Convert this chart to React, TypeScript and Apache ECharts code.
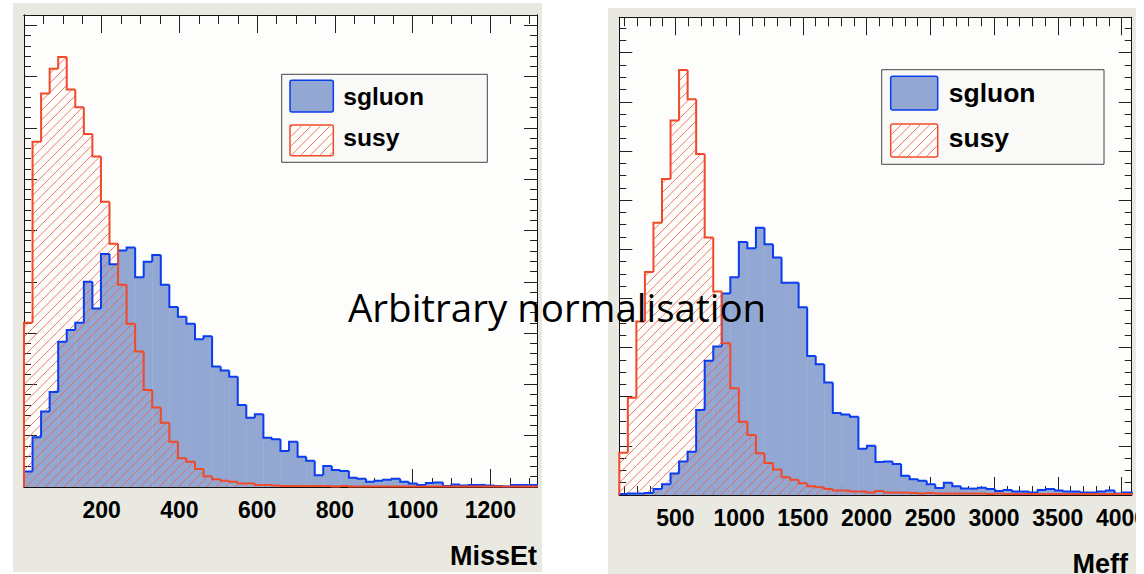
import React, { useEffect, useRef } from "react";
import * as echarts from "echarts";

// ---------- data ----------
const missEtBinStart = 0;
const missEtBinWidth = 22;
const missEtSgluon = [
  0.30, 0.97, 1.47, 1.85, 2.83, 3.06, 3.20, 4.00, 3.48, 4.54,
  4.34, 4.61, 4.67, 4.09, 4.39, 4.52, 3.94, 3.51, 3.32, 3.18,
  2.88, 2.94, 2.35, 2.27, 2.15, 1.60, 1.35, 1.42, 0.96, 0.93,
  0.70, 0.88, 0.59, 0.51, 0.23, 0.41, 0.33, 0.31, 0.18, 0.16,
  0.10, 0.12, 0.14, 0.16, 0.10, 0.07, 0.04, 0.08, 0.09, 0.02,
  0.05, 0.03, 0.04, 0.04, 0.03, 0.02, 0.01, 0.04, 0.04, 0.04,
];
const missEtSusy = [
  3.20, 6.73, 7.67, 8.15, 8.38, 7.75, 7.40, 6.88, 6.44, 5.56,
  4.74, 3.94, 3.18, 2.64, 1.89, 1.55, 1.25, 0.88, 0.56, 0.49,
  0.35, 0.21, 0.15, 0.12, 0.10, 0.07, 0.07, 0.04, 0.04, 0.03,
  0.02, 0.02, 0.02, 0.02, 0.02, 0.02, 0.01, 0.02, 0.01, 0.01,
  0.01, 0.01, 0.01, 0.01, 0.01, 0.01, 0.01, 0.01, 0.01, 0.01,
  0.01, 0.01, 0.01, 0.01, 0.01, 0.01, 0.01, 0.01, 0.01, 0.01,
];
const meffBinStart = 60;
const meffBinWidth = 67;
const meffSgluon = [
  0.02, 0.03, 0.03, 0.04, 0.12, 0.22, 0.44, 0.68, 0.88, 1.73,
  2.73, 3.02, 4.10, 4.43, 5.15, 5.02, 5.44, 5.10, 4.83, 4.32,
  4.32, 3.82, 2.83, 2.66, 2.29, 1.67, 1.64, 1.59, 0.94, 1.00,
  0.67, 0.68, 0.63, 0.39, 0.32, 0.29, 0.22, 0.14, 0.25, 0.18,
  0.13, 0.13, 0.15, 0.12, 0.08, 0.10, 0.07, 0.07, 0.05, 0.10,
  0.12, 0.09, 0.07, 0.07, 0.05, 0.05, 0.07, 0.09, 0.03, 0.05,
];
const meffSusy = [
  0.86, 1.98, 3.53, 4.54, 5.54, 6.43, 7.62, 8.65, 8.05, 6.94,
  5.24, 4.14, 3.09, 2.17, 1.49, 1.22, 0.85, 0.65, 0.52, 0.36,
  0.31, 0.24, 0.18, 0.16, 0.12, 0.09, 0.09, 0.07, 0.07, 0.05,
  0.08, 0.05, 0.05, 0.05, 0.04, 0.03, 0.04, 0.03, 0.03, 0.03,
  0.03, 0.03, 0.03, 0.02, 0.03, 0.02, 0.02, 0.02, 0.02, 0.02,
  0.02, 0.02, 0.02, 0.02, 0.02, 0.02, 0.02, 0.02, 0.02, 0.02,
];
const missEtRange = [0, 1320];
const meffRange = [60, 4080];
const missEtYMax = 9.2;
const meffYMax = 9.72;
const missEtTickLabels = [200, 400, 600, 800, 1000, 1200];
const meffTickLabels = [500, 1000, 1500, 2000, 2500, 3000, 3500, 4000];
const yMajorTicks = [1, 2, 3, 4, 5, 6, 7, 8, 9];
const seriesNames = ["sgluon", "susy"];
const axisTitles = ["MissEt", "Meff"];
const overlayText = "Arbitrary normalisation";

// ---------- styles ----------
const BLUE_FILL = "#93a7d3";
const BLUE_LINE = "#0a3cf0";
const RED_LINE = "#f04a2a";
const HATCH_COLOR = "rgba(240,95,70,0.85)";
const HATCH = 9.5;

function steps(step: number, max: number) {
  const out: number[] = [];
  for (let i = 1; i * step <= max + 1e-9; i++) out.push(+(i * step).toFixed(4));
  return out;
}

function toBins(start: number, width: number, vals: number[]) {
  return vals.map((v, i) => [
    start + i * width,
    start + (i + 1) * width,
    v,
    i > 0 ? vals[i - 1] : 0,
    i === vals.length - 1 ? 1 : 0,
  ]);
}

function hatchSegments(x0: number, x1: number, yTop: number, yBot: number, color: string, width: number) {
  const out: any[] = [];
  const kStart = Math.ceil((x0 + yTop) / HATCH);
  const kEnd = Math.floor((x1 + yBot) / HATCH);
  for (let k = kStart; k <= kEnd; k++) {
    const c = k * HATCH;
    const xa = Math.max(x0, c - yBot);
    const xb = Math.min(x1, c - yTop);
    if (xb - xa <= 0.05) continue;
    out.push({
      type: "line",
      silent: true,
      shape: { x1: xa, y1: c - xa, x2: xb, y2: c - xb },
      style: { stroke: color, lineWidth: width },
    });
  }
  return out;
}

const fillRender = (color: string) => (_p: any, api: any) => {
  const a = api.coord([api.value(0), 0]);
  const b = api.coord([api.value(1), api.value(2)]);
  return {
    type: "rect",
    silent: true,
    shape: { x: a[0], y: b[1], width: b[0] - a[0] + 0.4, height: a[1] - b[1] },
    style: { fill: color },
  };
};

const hatchRender = (_p: any, api: any) => {
  const a = api.coord([api.value(0), 0]);
  const b = api.coord([api.value(1), api.value(2)]);
  return { type: "group", children: hatchSegments(a[0], b[0], b[1], a[1], HATCH_COLOR, 1) };
};

const outlineRender = (color: string) => (_p: any, api: any) => {
  const a = api.coord([api.value(0), api.value(3)]);
  const b = api.coord([api.value(1), api.value(2)]);
  const base = api.coord([api.value(1), 0]);
  const pts = [
    [a[0], a[1]],
    [a[0], b[1]],
    [b[0], b[1]],
  ];
  if (api.value(4) === 1) pts.push([b[0], base[1]]);
  return {
    type: "polyline",
    silent: true,
    shape: { points: pts },
    style: { stroke: color, lineWidth: 2, fill: null, lineJoin: "miter" },
  };
};

function xAxisDef(gridIndex: number, position: string, range: number[], ticks: number[], len: number, labels: boolean) {
  return {
    type: "value",
    gridIndex,
    position,
    min: range[0],
    max: range[1],
    axisLine: { show: true, onZero: false, lineStyle: { color: "#111", width: 1 } },
    axisTick: { show: true, inside: true, length: len, customValues: ticks, lineStyle: { color: "#222", width: 1 } },
    axisLabel: labels
      ? {
          show: true,
          customValues: ticks,
          formatter: (v: number) => String(v),
          margin: 11,
          color: "#000",
          fontFamily: "Liberation Sans, Arial, sans-serif",
          fontWeight: "bold",
          fontSize: 23,
        }
      : { show: false },
    splitLine: { show: false },
  };
}

function yAxisDef(gridIndex: number, position: string, max: number, ticks: number[], len: number) {
  return {
    type: "value",
    gridIndex,
    position,
    min: 0,
    max,
    axisLine: { show: true, onZero: false, lineStyle: { color: "#111", width: 1 } },
    axisTick: { show: true, inside: true, length: len, customValues: ticks, lineStyle: { color: "#222", width: 1 } },
    axisLabel: { show: false },
    splitLine: { show: false },
  };
}

function histSeries(xi: number, yi: number, blue: number[][], red: number[][]) {
  return [
    { type: "custom", xAxisIndex: xi, yAxisIndex: yi, z: 2, renderItem: fillRender(BLUE_FILL), data: blue, encode: { x: [0, 1], y: 2 } },
    { type: "custom", xAxisIndex: xi, yAxisIndex: yi, z: 3, renderItem: hatchRender, data: red, encode: { x: [0, 1], y: 2 } },
    { type: "custom", xAxisIndex: xi, yAxisIndex: yi, z: 4, renderItem: outlineRender(BLUE_LINE), data: blue, encode: { x: [0, 1], y: 2 } },
    { type: "custom", xAxisIndex: xi, yAxisIndex: yi, z: 5, renderItem: outlineRender(RED_LINE), data: red, encode: { x: [0, 1], y: 2 } },
  ];
}

function legend(x: number, y: number, w: number, h: number, sx: number, sw: number, s1: number[], s2: number[], tx: number, t1: number, t2: number, fs: number) {
  return {
    type: "group",
    z: 50,
    children: [
      { type: "rect", shape: { x, y, width: w, height: h }, style: { fill: "#f9f9f8", stroke: "#444", lineWidth: 1 } },
      { type: "rect", shape: { x: sx, y: s1[0], width: sw, height: s1[1] - s1[0], r: 2 }, style: { fill: BLUE_FILL, stroke: BLUE_LINE, lineWidth: 1.5 } },
      { type: "rect", shape: { x: sx, y: s2[0], width: sw, height: s2[1] - s2[0], r: 2 }, style: { fill: "#fdfdfb", stroke: RED_LINE, lineWidth: 1.5 } },
      ...hatchSegments(sx + 1, sx + sw - 1, s2[0] + 1, s2[1] - 1, HATCH_COLOR, 1),
      { type: "text", x: tx, y: t1, style: { text: seriesNames[0], fill: "#000", font: `bold ${fs}px "Liberation Sans", Arial, sans-serif`, verticalAlign: "middle", align: "left" } },
      { type: "text", x: tx, y: t2, style: { text: seriesNames[1], fill: "#000", font: `bold ${fs}px "Liberation Sans", Arial, sans-serif`, verticalAlign: "middle", align: "left" } },
    ],
  };
}

export default function App() {
  const ref = useRef<HTMLDivElement>(null);
  useEffect(() => {
    if (!ref.current) return;
    const chart = echarts.init(ref.current, undefined, { renderer: "svg" });
    const L = { left: 24, top: 15, width: 513, height: 472, outerBoundsMode: "none", containLabel: false };
    const R = { left: 619.3, top: 17.3, width: 512.4, height: 477.7, outerBoundsMode: "none", containLabel: false };
    const option: any = {
      animation: false,
      grid: [
        { ...L, show: true, backgroundColor: "#fdfdfb", borderWidth: 0 },
        { ...L, show: false },
        { ...R, show: true, backgroundColor: "#fdfdfb", borderWidth: 0 },
        { ...R, show: false },
      ],
      xAxis: [
        xAxisDef(0, "bottom", missEtRange, missEtTickLabels, 18, true),
        xAxisDef(0, "top", missEtRange, missEtTickLabels, 18, false),
        xAxisDef(1, "bottom", missEtRange, steps(50, 1300), 9, false),
        xAxisDef(1, "top", missEtRange, steps(50, 1300), 9, false),
        xAxisDef(2, "bottom", meffRange, meffTickLabels, 18, true),
        xAxisDef(2, "top", meffRange, meffTickLabels, 18, false),
        xAxisDef(3, "bottom", meffRange, steps(100, 4000), 9, false),
        xAxisDef(3, "top", meffRange, steps(100, 4000), 9, false),
      ],
      yAxis: [
        yAxisDef(0, "left", missEtYMax, yMajorTicks, 13),
        yAxisDef(0, "right", missEtYMax, yMajorTicks, 13),
        yAxisDef(1, "left", missEtYMax, steps(0.2, 9.2), 7),
        yAxisDef(1, "right", missEtYMax, steps(0.2, 9.2), 7),
        yAxisDef(2, "left", meffYMax, yMajorTicks, 13),
        yAxisDef(2, "right", meffYMax, yMajorTicks, 13),
        yAxisDef(3, "left", meffYMax, steps(0.25, 9.5), 7),
        yAxisDef(3, "right", meffYMax, steps(0.25, 9.5), 7),
      ],
      series: [
        ...histSeries(0, 0, toBins(missEtBinStart, missEtBinWidth, missEtSgluon), toBins(missEtBinStart, missEtBinWidth, missEtSusy)),
        ...histSeries(4, 4, toBins(meffBinStart, meffBinWidth, meffSgluon), toBins(meffBinStart, meffBinWidth, meffSusy)),
      ],
      graphic: [
        legend(281.7, 74.3, 205.6, 88, 290, 43.3, [80.3, 112], [125, 155.7], 343.3, 96, 137, 24.6),
        legend(881.7, 69.7, 222.3, 94.6, 890.7, 47, [76.3, 110], [124, 157], 948.7, 93, 138, 26.5),
        { type: "text", z: 60, x: 537, y: 556, style: { text: axisTitles[0], fill: "#000", font: 'bold 27px "Liberation Sans", Arial, sans-serif', align: "right", verticalAlign: "middle" } },
        { type: "text", z: 60, x: 1128, y: 564, style: { text: axisTitles[1], fill: "#000", font: 'bold 27px "Liberation Sans", Arial, sans-serif', align: "right", verticalAlign: "middle" } },
        { type: "text", z: 100, x: 348, y: 307, style: { text: overlayText, fill: "#000", font: '38.5px "Open Sans", Lato, sans-serif', align: "left", verticalAlign: "middle" } },
      ],
    };
    chart.setOption(option);
    return () => chart.dispose();
  }, []);
  return (
    <div style={{ position: "fixed", left: 0, top: 0, width: 1144, height: 574, background: "#fff", overflow: "hidden" }}>
      <div style={{ position: "absolute", left: 13, top: 3, width: 529, height: 569, background: "#e9e9e1" }} />
      <div style={{ position: "absolute", left: 608, top: 8, width: 528, height: 566, background: "#e9e9e1" }} />
      <div ref={ref} style={{ position: "absolute", left: 0, top: 0, width: 1144, height: 574 }} />
      <div style={{ position: "absolute", left: 1136, top: 0, width: 8, height: 574, background: "#fff" }} />
    </div>
  );
}
